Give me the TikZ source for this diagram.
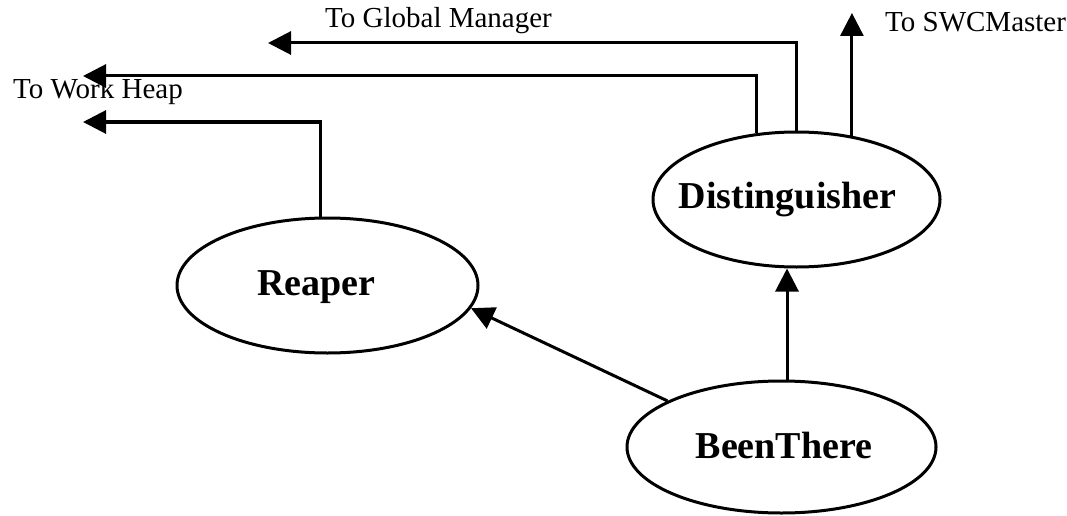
\documentclass[tikz,border=0pt]{standalone}
\usepackage{fontspec}
\setmainfont{Liberation Serif}
\usetikzlibrary{arrows.meta,shapes.geometric}
\begin{document}
\begin{tikzpicture}[x=1pt,y=-1pt,
  proc/.style={draw, ellipse, line width=3pt, inner sep=0pt},
  lbl/.style={font=\fontsize{38}{40}\selectfont\bfseries, anchor=base, inner sep=0pt},
  note/.style={font=\fontsize{29}{32}\selectfont, anchor=base west, inner sep=0pt},
  flow/.style={line width=3pt, -{Triangle[length=23pt,width=23pt]}},
]
\useasboundingbox (0,0) rectangle (1067,516);

% processes
\node[proc, minimum width=287pt, minimum height=135pt] (dist)   at (796.5,199.5) {};
\node[proc, minimum width=301pt, minimum height=135pt] (reaper) at (327.5,285.5) {};
\node[proc, minimum width=309pt, minimum height=132pt] (bt)     at (781.5,447) {};

\node[lbl] (tdist)   at (787.5,208) {Distinguisher};
\node[lbl] (treaper) at (316.5,295) {Reaper};
\node[lbl] (tbt)     at (784,458)   {BeenThere};

% outgoing destinations
\coordinate (heapA) at (83,76);
\coordinate (heapB) at (83,122);
\coordinate (glob)  at (268,43);
\coordinate (swc)   at (851,13);
\coordinate (rx)    at (320,0);
\coordinate (bx)    at (787,0);

\draw[flow] (rx |- reaper.north) |- (heapB);
\draw[flow] (dist.121) |- (heapA);
\draw[flow] (dist.north) |- (glob);
\draw[flow] (dist.49) -- (dist.49 |- swc);

\draw[flow] (bx |- bt.north) -- (bx |- dist.south);
\draw[flow] (bt.158) -- (reaper.-9);

% labels
\node[note] (lheap) at (13,99)  {To Work Heap};
\node[note] (lglob) at (325,28) {To Global Manager};
\node[note] (lswc)  at (885,32) {To SWCMaster};
\end{tikzpicture}
\end{document}
